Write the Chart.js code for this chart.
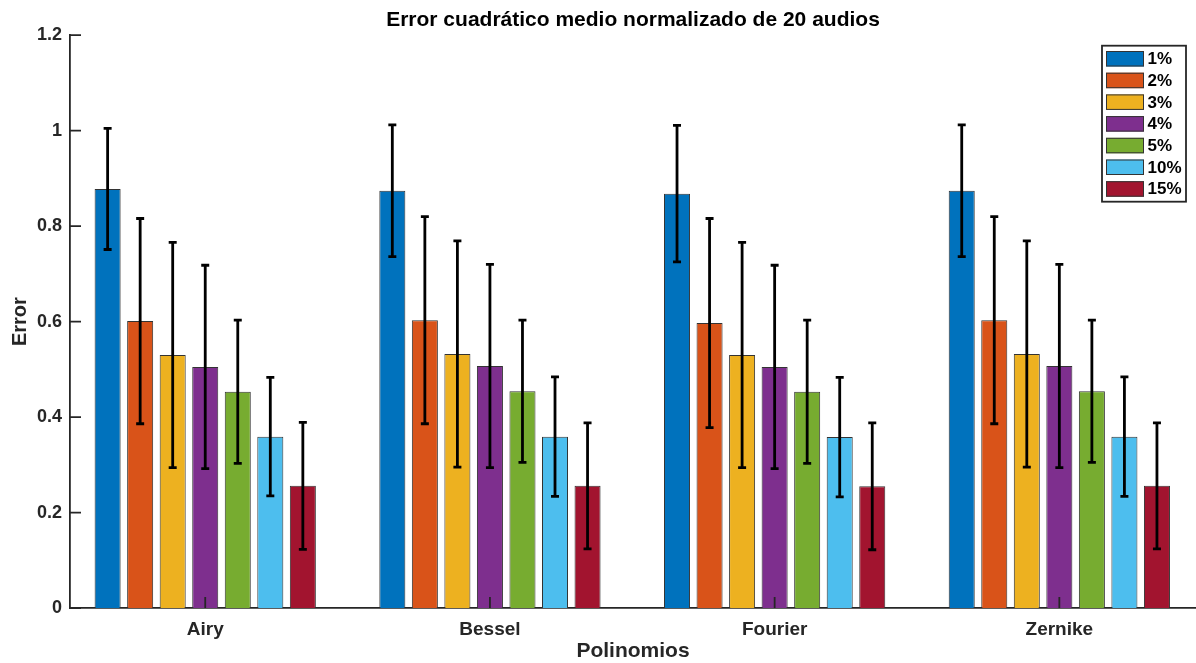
<!DOCTYPE html>
<html>
<head>
<meta charset="utf-8">
<script src="https://cdn.jsdelivr.net/npm/chart.js@4/dist/chart.umd.min.js"></script>
<style>
  html, body { margin: 0; padding: 0; background: #ffffff; }
  #wrap { width: 1196px; height: 663px; }
</style>
</head>
<body>
<div id="wrap"><canvas id="c" width="1196" height="663"></canvas></div>
<script>
// Polynomial families on the horizontal axis
const categories = ['Airy', 'Bessel', 'Fourier', 'Zernike'];
// Noise levels, one bar series each
const seriesLabels = ['1%', '2%', '3%', '4%', '5%', '10%', '15%'];

// Mean normalised RMS error per family (Airy, Bessel, Fourier, Zernike)
const mean1  = [0.878, 0.874, 0.868, 0.874];
const mean2  = [0.601, 0.603, 0.597, 0.603];
const mean3  = [0.530, 0.532, 0.530, 0.532];
const mean4  = [0.505, 0.507, 0.505, 0.507];
const mean5  = [0.453, 0.454, 0.453, 0.454];
const mean10 = [0.359, 0.359, 0.358, 0.359];
const mean15 = [0.256, 0.256, 0.255, 0.256];

// Standard deviation over the 20 audio clips
const sd1  = [0.127, 0.138, 0.143, 0.138];
const sd2  = [0.215, 0.217, 0.219, 0.217];
const sd3  = [0.236, 0.237, 0.236, 0.237];
const sd4  = [0.213, 0.213, 0.213, 0.213];
const sd5  = [0.150, 0.149, 0.150, 0.149];
const sd10 = [0.124, 0.125, 0.125, 0.125];
const sd15 = [0.133, 0.132, 0.133, 0.132];

// Y axis tick values
const yTicks = [0, 0.2, 0.4, 0.6, 0.8, 1, 1.2];

const means = [mean1, mean2, mean3, mean4, mean5, mean10, mean15];
const sds   = [sd1, sd2, sd3, sd4, sd5, sd10, sd15];
const colors = ['#0072BD', '#D95319', '#EDB120', '#7E2F8E', '#77AC30', '#4DBEEE', '#A2142F'];

const AXIS = '#262626';
const FONT = "'Liberation Sans', Arial, Helvetica, sans-serif";

// Error bars (mean ± sd), drawn on top of every bar
const errorBars = {
  id: 'errorBars',
  afterDatasetsDraw(chart) {
    const ctx = chart.ctx;
    const y = chart.scales.y;
    ctx.save();
    ctx.strokeStyle = '#000000';
    ctx.lineWidth = 2.8;
    ctx.lineCap = 'butt';
    chart.data.datasets.forEach((ds, di) => {
      const meta = chart.getDatasetMeta(di);
      meta.data.forEach((bar, i) => {
        const m = means[di][i], s = sds[di][i];
        const yTop = y.getPixelForValue(m + s);
        const yBot = y.getPixelForValue(m - s);
        const x = bar.x;
        ctx.beginPath();
        ctx.moveTo(x, yTop); ctx.lineTo(x, yBot);
        ctx.moveTo(x - 4, yTop); ctx.lineTo(x + 4, yTop);
        ctx.moveTo(x - 4, yBot); ctx.lineTo(x + 4, yBot);
        ctx.stroke();
      });
    });
    ctx.restore();
  }
};

// Inward-pointing tick marks on both axes
const innerTicks = {
  id: 'innerTicks',
  afterDatasetsDraw(chart) {
    const ctx = chart.ctx;
    const {x, y} = chart.scales;
    const area = chart.chartArea;
    ctx.save();
    ctx.strokeStyle = AXIS;
    ctx.lineWidth = 1.8;
    ctx.beginPath();
    yTicks.forEach(v => {
      const py = y.getPixelForValue(v);
      ctx.moveTo(area.left, py); ctx.lineTo(area.left + 11, py);
    });
    categories.forEach((c, i) => {
      const px = x.getPixelForValue(i + 1);
      ctx.moveTo(px, area.bottom); ctx.lineTo(px, area.bottom - 11);
    });
    ctx.stroke();
    ctx.restore();
  }
};

// Boxed legend in the upper right corner of the axes
const boxLegend = {
  id: 'boxLegend',
  afterDraw(chart) {
    const ctx = chart.ctx;
    const area = chart.chartArea;
    const w = 84, h = 156;
    const left = area.right - 10 - w;
    const top = area.top + 10.5;
    ctx.save();
    ctx.fillStyle = '#ffffff';
    ctx.fillRect(left, top, w, h);
    ctx.strokeStyle = AXIS;
    ctx.lineWidth = 1.8;
    ctx.strokeRect(left, top, w, h);
    ctx.font = 'bold 17px ' + FONT;
    ctx.textBaseline = 'middle';
    ctx.textAlign = 'left';
    seriesLabels.forEach((lab, i) => {
      const sy = top + 5.3 + i * 21.7;
      ctx.fillStyle = colors[i];
      ctx.fillRect(left + 4, sy, 38, 15.5);
      ctx.strokeStyle = '#333333';
      ctx.lineWidth = 1;
      ctx.strokeRect(left + 4.5, sy + 0.5, 37, 14.5);
      ctx.fillStyle = '#000000';
      ctx.fillText(lab, left + 45.5, sy + 8.5);
    });
    ctx.restore();
  }
};

const datasets = seriesLabels.map((lab, k) => ({
  label: lab,
  data: categories.map((c, i) => ({x: i + 1, y: means[k][i]})),
  backgroundColor: colors[k],
  borderColor: '#333333',
  borderWidth: 1,
  categoryPercentage: 0.8,
  barPercentage: 0.8
}));

new Chart(document.getElementById('c'), {
  type: 'bar',
  data: { datasets },
  plugins: [errorBars, innerTicks, boxLegend],
  options: {
    responsive: false,
    devicePixelRatio: 1,
    animation: false,
    layout: { padding: 0 },
    plugins: {
      legend: { display: false },
      tooltip: { enabled: false },
      title: {
        display: true,
        text: 'Error cuadrático medio normalizado de 20 audios',
        color: '#000000',
        font: { family: FONT, size: 21, weight: 'bold' },
        padding: { top: 7.5, bottom: 2.5 },
        fullSize: false
      }
    },
    scales: {
      x: {
        type: 'linear',
        min: 0.525,
        max: 4.48,
        offset: false,
        grid: { display: false, drawTicks: false },
        border: { display: true, color: AXIS, width: 1.8 },
        afterBuildTicks(scale) {
          scale.ticks = categories.map((c, i) => ({ value: i + 1 }));
        },
        afterFit(scale) { scale.height = 55; },
        ticks: {
          autoSkip: false,
          maxRotation: 0,
          padding: 10,
          color: AXIS,
          font: { family: FONT, size: 19, weight: 'bold' },
          callback: v => categories[Math.round(v) - 1]
        },
        title: {
          display: true,
          text: 'Polinomios',
          color: AXIS,
          font: { family: FONT, size: 21, weight: 'bold' },
          padding: { top: 0, bottom: -1 }
        }
      },
      y: {
        min: 0,
        max: 1.2,
        grid: { display: false, drawTicks: false },
        border: { display: true, color: AXIS, width: 1.8 },
        afterBuildTicks(scale) {
          scale.ticks = yTicks.map(v => ({ value: v }));
        },
        afterFit(scale) { scale.width = 70; },
        ticks: {
          padding: 8,
          color: AXIS,
          font: { family: FONT, size: 18, weight: 'bold' },
          callback: v => String(Math.round(v * 10) / 10)
        },
        title: {
          display: true,
          text: 'Error',
          color: AXIS,
          font: { family: FONT, size: 20, weight: 'bold' },
          padding: { top: 8, bottom: 0 }
        }
      }
    }
  }
});
</script>
</body>
</html>
